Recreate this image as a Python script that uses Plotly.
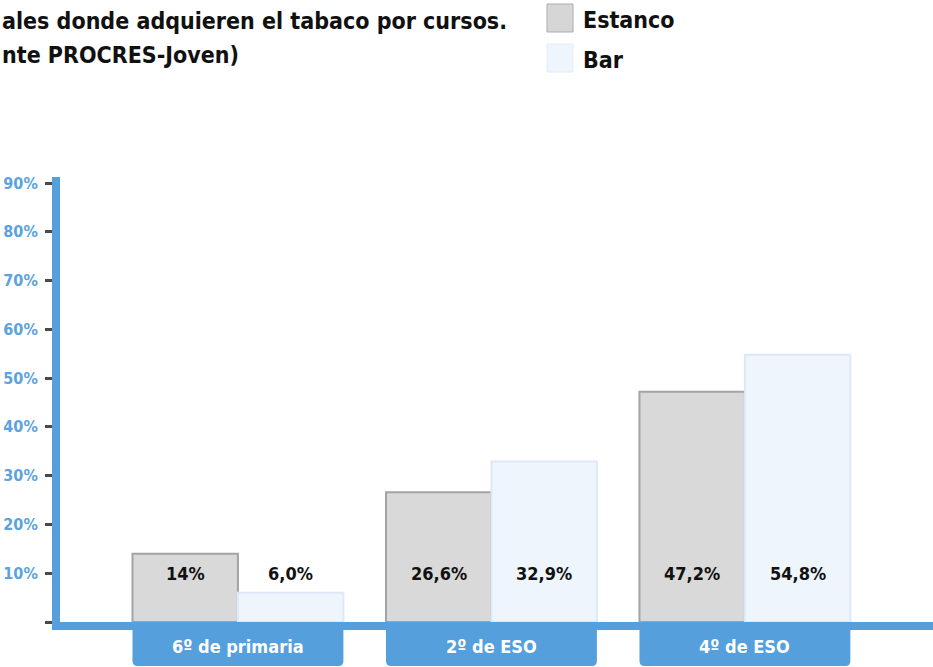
import plotly.graph_objects as go

categories = ["6º de primaria", "2º de ESO", "4º de ESO"]
estanco = [14.0, 26.6, 47.2]
bar = [6.0, 32.9, 54.8]
estanco_labels = ["14%", "26,6%", "47,2%"]
bar_labels = ["6,0%", "32,9%", "54,8%"]
tick_vals = [0, 10, 20, 30, 40, 50, 60, 70, 80, 90]
tick_text = ["", "10%", "20%", "30%", "40%", "50%", "60%", "70%", "80%", "90%"]
title_lines = ["ales donde adquieren el tabaco por cursos.", "nte PROCRES-Joven)"]
series_names = ["Estanco", "Bar"]

FONT = "DejaVu Sans Condensed, Liberation Sans Narrow, sans-serif"
BLUE = "#559fdd"
GRAY_FILL = "#d9d9d9"
GRAY_LINE = "#a3a3a3"
LB_FILL = "#eef5fc"
LB_LINE = "#dde9f6"

W, H = 933, 667
L, R, T, B = 60, 0, 177, 45
plot_h = H - T - B
plot_w = W - L - R
X0, X1 = -0.702, 2.742
ux = plot_w / (X1 - X0)  # px per category unit


def xp(px):
    return (px - L) / plot_w


def yp(py):
    return (H - B - py) / plot_h


fig = go.Figure()
fig.add_trace(go.Bar(x=list(range(len(categories))), y=estanco, name=series_names[0],
                     marker=dict(color=GRAY_FILL, line=dict(color=GRAY_LINE, width=2)),
                     showlegend=False, hoverinfo="skip"))
fig.add_trace(go.Bar(x=list(range(len(categories))), y=bar, name=series_names[1],
                     marker=dict(color=LB_FILL, line=dict(color=LB_LINE, width=2)),
                     showlegend=False, hoverinfo="skip"))

bargap = 0.168
half = (1 - bargap) / 2
annotations = []
shapes = []
lab_font = dict(family=FONT, size=18, color="#111", weight="bold")
for i, cat in enumerate(categories):
    annotations.append(dict(x=i - half / 2, y=10, xref="x", yref="y", yanchor="middle",
                            text=estanco_labels[i], showarrow=False, font=lab_font))
    annotations.append(dict(x=i + half / 2, y=10, xref="x", yref="y", yanchor="middle",
                            text=bar_labels[i], showarrow=False, font=lab_font))
    # category box with rounded bottom corners
    xa, xb = i - half, i + half
    ya, yb = yp(627), yp(666)
    rx, ry = 5 / ux, 5 / plot_h
    path = (f"M{xa},{ya} L{xb},{ya} L{xb},{yb + ry} Q{xb},{yb} {xb - rx},{yb} "
            f"L{xa + rx},{yb} Q{xa},{yb} {xa},{yb + ry} Z")
    shapes.append(dict(type="path", xref="x", yref="paper", path=path,
                       fillcolor=BLUE, line=dict(width=0), layer="above"))
    annotations.append(dict(x=i, y=yp(646), xref="x", yref="paper", yanchor="middle",
                            text=cat, showarrow=False,
                            font=dict(family=FONT, size=18, color="white", weight="bold")))

title_font = dict(family=FONT, size=23, color="#111", weight="bold")
annotations.append(dict(x=xp(0), y=yp(21), xref="paper", yref="paper", xanchor="left",
                        yanchor="middle", text=title_lines[0], showarrow=False, font=title_font))
annotations.append(dict(x=xp(0), y=yp(55), xref="paper", yref="paper", xanchor="left",
                        yanchor="middle", text=title_lines[1], showarrow=False, font=title_font))

legend_items = [(series_names[0], "#d6d6d6", "#ababab", 4, 32),
                (series_names[1], LB_FILL, "#e2ecf7", 44, 72)]
for name, fill, line, y0, y1 in legend_items:
    shapes.append(dict(type="rect", xref="paper", yref="paper", x0=xp(547), x1=xp(573),
                       y0=yp(y1), y1=yp(y0), fillcolor=fill, line=dict(color=line, width=1)))
    annotations.append(dict(x=xp(581), y=yp((y0 + y1) / 2 + 2), xref="paper", yref="paper",
                            xanchor="left", yanchor="middle", text=name, showarrow=False,
                            font=dict(family=FONT, size=23, color="#111", weight="bold")))

fig.update_layout(
    width=W, height=H,
    margin=dict(l=L, r=R, t=T, b=B, pad=0),
    paper_bgcolor="white", plot_bgcolor="white",
    barmode="group", bargap=bargap, bargroupgap=0,
    font=dict(family=FONT),
    xaxis=dict(range=[X0, X1], showticklabels=False, ticks="", showgrid=False,
               zeroline=False, showline=True, linecolor=BLUE, linewidth=8, fixedrange=True),
    yaxis=dict(range=[0, 91.23], tickvals=tick_vals, ticktext=tick_text, ticks="outside",
               ticklen=7, tickwidth=3, tickcolor="#4a4a4a", showgrid=False, zeroline=False,
               showline=True, linecolor=BLUE, linewidth=8, ticklabelstandoff=4,
               tickfont=dict(family=FONT, size=16, color="#5aa2e0", weight="bold"),
               fixedrange=True),
    annotations=annotations,
    shapes=shapes,
)

fig.write_html("out.html", config={"displayModeBar": False},
               post_script="document.body.style.margin='0';")
